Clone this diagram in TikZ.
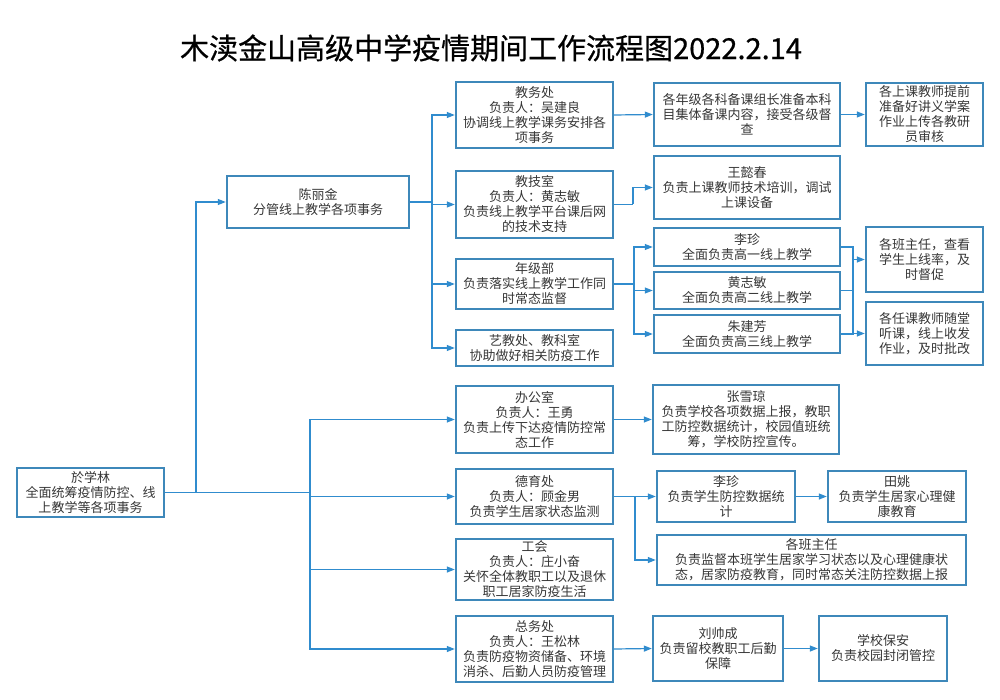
\documentclass[tikz,border=0pt]{standalone}
\usepackage{fontspec}
\newfontfamily\cjk{Noto Sans CJK SC}
\newfontfamily\cjktitle{Noto Sans CJK SC}[FakeBold=0.6]
\usetikzlibrary{arrows.meta}
\definecolor{boxblue}{RGB}{62,136,186}
\definecolor{lineblue}{RGB}{48,140,206}
\definecolor{txt}{RGB}{55,55,55}
\tikzset{
  box/.style={draw=boxblue, line width=1.2pt, fill=white, align=center, inner sep=0pt,
    font=\cjk\fontsize{13}{15}\selectfont, text=txt},
  line/.style={draw=lineblue, line width=1.2pt},
  arr/.style={line, -{Triangle[length=8pt,width=6pt]}, shorten >=0.6pt},
}
\newcommand{\bx}[7]{\node[box, minimum width=#4pt, minimum height=#5pt] (#1) at (#2,#3) {#6};}
\begin{document}
\begin{tikzpicture}[x=1pt,y=-1pt]
\fill[white] (0,0) rectangle (1000,700);
\useasboundingbox (0,0) rectangle (1000,700);
\node[font=\cjktitle\fontsize{29}{31}\selectfont, text=black] (title) at (491,48) {木渎金山高级中学疫情期间工作流程图2022.2.14};

\bx{root}{90.5}{492.5}{147}{49}{於学林\\全面统筹疫情防控、线\\上教学等各项事务}{}
\bx{chen}{318}{202}{182}{52}{陈丽金\\分管线上教学各项事务}{}
\bx{jwc}{534.5}{115}{157}{66}{教务处\\负责人：吴建良\\协调线上教学课务安排各\\项事务}{}
\bx{jjs}{534.5}{204.5}{157}{67}{教技室\\负责人：黄志敏\\负责线上教学平台课后网\\的技术支持}{}
\bx{njb}{534.5}{284}{157}{50}{年级部\\负责落实线上教学工作同\\时常态监督}{}
\bx{yjc}{534.5}{348}{157}{36}{艺教处、教科室\\协助做好相关防疫工作}{}
\bx{gnj}{747}{114.5}{186}{63}{各年级各科备课组长准备本科\\目集体备课内容，接受各级督\\查}{}
\bx{gsk}{924.5}{114.5}{117}{63}{各上课教师提前\\准备好讲义学案\\作业上传各教研\\员审核}{}
\bx{wyc}{747}{187.5}{186}{63}{王懿春\\负责上课教师技术培训，调试\\上课设备}{}
\bx{lza}{747}{247}{186}{38}{李珍\\全面负责高一线上教学}{}
\bx{hzm}{747}{290.5}{186}{37}{黄志敏\\全面负责高二线上教学}{}
\bx{zjf}{747}{334}{186}{38}{朱建芳\\全面负责高三线上教学}{}
\bx{gbza}{924.5}{259.5}{117}{65}{各班主任，查看\\学生上线率，及\\时督促}{}
\bx{grk}{924.5}{333.5}{117}{63}{各任课教师随堂\\听课，线上收发\\作业，及时批改}{}
\bx{bgs}{534.5}{419.5}{157}{67}{办公室\\负责人：王勇\\负责上传下达疫情防控常\\态工作}{}
\bx{dyc}{534.5}{496.5}{157}{55}{德育处\\负责人：顾金男\\负责学生居家状态监测}{}
\bx{gh}{534.5}{569.5}{157}{61}{工会\\负责人：庄小奋\\关怀全体教职工以及退休\\职工居家防疫生活}{}
\bx{zwc}{534.5}{649}{157}{66}{总务处\\负责人：王松林\\负责防疫物资储备、环境\\消杀、后勤人员防疫管理}{}
\bx{zxq}{746}{419.5}{186}{69}{张雪琼\\负责学校各项数据上报，教职\\工防控数据统计，校园值班统\\筹，学校防控宣传。}{}
\bx{lzb}{726}{496.5}{138}{51}{李珍\\负责学生防控数据统\\计}{}
\bx{ty}{897}{496.5}{138}{51}{田姚\\负责学生居家心理健\\康教育}{}
\bx{gbzb}{811.5}{560}{309}{50}{各班主任\\负责监督本班学生居家学习状态以及心理健康状\\态，居家防疫教育，同时常态关注防控数据上报}{}
\bx{lsc}{718}{648.5}{130}{65}{刘帅成\\负责留校教职工后勤\\保障}{}
\bx{xba}{883}{648.5}{128}{65}{学校保安\\负责校园封闭管控}{}

% junction coordinates
\coordinate (j1) at (196,492.5);
\coordinate (j2) at (310,492.5);
\coordinate (j3) at (432,202);
\coordinate (j4) at (633,204.5);
\coordinate (j5) at (634,284);
\coordinate (k1) at (853,247);
\coordinate (k2) at (853,334);
\coordinate (j7) at (635,496.5);

% root
\draw[line] (root.east) -- (j2);
\draw[arr] (j1) |- (chen.west);
\draw[arr] (j2) |- (bgs.west);
\draw[arr] (j2) |- (dyc.west);
\draw[arr] (j2) |- (gh.west);
\draw[arr] (j2) |- (zwc.west);
% chen
\draw[line] (chen.east) -- (j3);
\draw[arr] (j3) |- (jwc.west);
\draw[arr] (j3) |- (jjs.west);
\draw[arr] (j3) |- (njb.west);
\draw[arr] (j3) |- (yjc.west);
% upper right
\draw[arr] (jwc.east) -- (gnj.west);
\draw[arr] (gnj.east) -- (gsk.west);
\draw[line] (jjs.east) -- (j4);
\draw[arr] (j4) |- (wyc.west);
\draw[line] (njb.east) -- (j5);
\draw[arr] (j5) |- (lza.west);
\draw[arr] (j5) |- (hzm.west);
\draw[arr] (j5) |- (zjf.west);
\draw[line] (lza.east) -- (k1) -- (k2) -- (zjf.east);
\draw[line] (hzm.east) -- (hzm.east -| k1);
\draw[arr] (gbza.west -| k1) -- (gbza.west);
\draw[arr] (grk.west -| k1) -- (grk.west);
% lower right
\draw[arr] (bgs.east) -- (zxq.west);
\draw[arr] (dyc.east) -- (lzb.west);
\draw[arr] (lzb.east) -- (ty.west);
\draw[arr] (j7) |- (gbzb.west);
\draw[arr] (zwc.east) -- (lsc.west);
\draw[arr] (lsc.east) -- (xba.west);
\end{tikzpicture}
\end{document}
